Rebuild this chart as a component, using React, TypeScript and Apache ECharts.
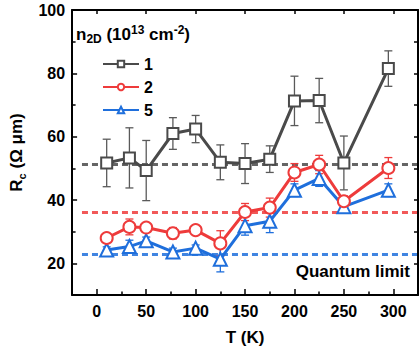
import React, { useEffect, useRef } from "react";
import * as echarts from "echarts";

const temps = [10, 33, 50, 77, 100, 125, 150, 175, 200, 225, 250, 295];
const series1 = [51.7, 53.3, 49.3, 61.0, 62.4, 51.9, 51.5, 52.9, 71.3, 71.4, 51.7, 81.5];
const err1 = [7.5, 9.5, 9.5, 5.0, 4.3, 5.5, 6.3, 4.2, 7.8, 7.0, 8.5, 5.6];
const series2 = [28.0, 31.5, 31.3, 29.5, 30.5, 26.3, 36.2, 37.6, 48.7, 51.2, 39.6, 50.1];
const err2 = [1.0, 2.5, 1.2, 1.8, 1.0, 4.0, 2.7, 3.0, 2.8, 2.9, 1.7, 3.3];
const series5 = [24.2, 25.3, 27.1, 23.6, 24.8, 21.3, 31.9, 33.3, 43.1, 46.8, 37.9, 43.1];
const err5 = [1.0, 2.0, 1.2, 1.2, 1.0, 4.0, 3.0, 3.6, 2.0, 2.5, 1.5, 2.0];
const seriesNames = ["1", "2", "5"];
const quantumLimits = [51.3, 36.2, 22.9];
const limitRange = [-15, 325];
const xMajorTicks = [0, 50, 100, 150, 200, 250, 300];
const xMinorTicks = [25, 75, 125, 175, 225, 275];
const yMajorTicks = [20, 40, 60, 80, 100];
const yMinorTicks = [30, 50, 70, 90];

const FONT = "Liberation Sans, Arial, Helvetica, sans-serif";
const COLORS = ["#4a4a4a", "#ee3b3b", "#1f6fdc"];
const ERR_COLORS = ["#5a5a5a", "#ee3b3b", "#1f6fdc"];
const SYMBOLS = ["emptyRect", "emptyCircle", "emptyTriangle"];
const SIZES = [11, 12, 13];

export default function App() {
  const ref = useRef<HTMLDivElement>(null);
  useEffect(() => {
    if (!ref.current) return;
    const chart = echarts.init(ref.current, undefined, { renderer: "svg" });
    const values = [series1, series2, series5];
    const errs = [err1, err2, err5];

    const axisCommon = (extra: any) => ({
      type: "value",
      splitLine: { show: false },
      ...extra,
    });

    const xAxes = [
      axisCommon({
        min: -25,
        max: 325,
        position: "bottom",
        axisLine: { show: true, onZero: false, lineStyle: { color: "#000", width: 2 } },
        axisTick: { show: true, inside: true, length: 6, customValues: xMajorTicks, lineStyle: { color: "#000", width: 1.5 } },
        axisLabel: { show: true, customValues: xMajorTicks, margin: 8, color: "#000", fontSize: 16, fontWeight: "bold", fontFamily: FONT },
        name: "T (K)",
        nameLocation: "middle",
        nameGap: 34,
        nameTextStyle: { color: "#000", fontSize: 17, fontWeight: "bold", fontFamily: FONT },
      }),
      axisCommon({
        min: -25,
        max: 325,
        position: "bottom",
        axisLine: { show: false, onZero: false },
        axisTick: { show: true, inside: true, length: 3.5, customValues: xMinorTicks, lineStyle: { color: "#000", width: 1.5 } },
        axisLabel: { show: false },
      }),
      axisCommon({
        min: -25,
        max: 325,
        position: "top",
        axisLine: { show: true, onZero: false, lineStyle: { color: "#000", width: 2 } },
        axisTick: { show: true, inside: true, length: 4, customValues: xMajorTicks, lineStyle: { color: "#000", width: 1.5 } },
        axisLabel: { show: false },
      }),
    ];

    const yAxes = [
      axisCommon({
        min: 10,
        max: 100,
        position: "left",
        axisLine: { show: true, onZero: false, lineStyle: { color: "#000", width: 2 } },
        axisTick: { show: true, inside: true, length: 5, customValues: yMajorTicks, lineStyle: { color: "#000", width: 1.5 } },
        axisLabel: { show: true, customValues: yMajorTicks, margin: 7, color: "#000", fontSize: 16, fontWeight: "bold", fontFamily: FONT },
        name: "{b|R}{s|c}{b| (Ω μm)}",
        nameLocation: "middle",
        nameGap: 40,
        nameTextStyle: {
          color: "#000",
          rich: {
            b: { fontSize: 17, fontWeight: "bold", fontFamily: FONT, color: "#000", lineHeight: 22 },
            s: { fontSize: 11, fontWeight: "bold", fontFamily: FONT, color: "#000", verticalAlign: "bottom" },
          },
        },
      }),
      axisCommon({
        min: 10,
        max: 100,
        position: "left",
        axisLine: { show: false, onZero: false },
        axisTick: { show: true, inside: true, length: 3.5, customValues: yMinorTicks, lineStyle: { color: "#000", width: 1.5 } },
        axisLabel: { show: false },
      }),
      axisCommon({
        min: 10,
        max: 100,
        position: "right",
        axisLine: { show: true, onZero: false, lineStyle: { color: "#000", width: 2 } },
        axisTick: { show: true, inside: true, length: 4, customValues: [...yMajorTicks, ...yMinorTicks], lineStyle: { color: "#000", width: 1.5 } },
        axisLabel: { show: false },
      }),
    ];

    const errorSeries = values.map((vals, i) => ({
      type: "custom",
      name: "err" + i,
      xAxisIndex: 0,
      yAxisIndex: 0,
      z: 1,
      silent: true,
      encode: { x: 0, y: [1, 2] },
      data: temps.map((t, k) => [t, vals[k] - errs[i][k], vals[k] + errs[i][k]]),
      renderItem: (params: any, api: any) => {
        const x = api.value(0);
        const lo = api.coord([x, api.value(1)]);
        const hi = api.coord([x, api.value(2)]);
        const hw = 4;
        const style = { stroke: ERR_COLORS[i], lineWidth: 1.3, fill: null };
        return {
          type: "group",
          children: [
            { type: "line", shape: { x1: lo[0], y1: lo[1], x2: hi[0], y2: hi[1] }, style },
            { type: "line", shape: { x1: lo[0] - hw, y1: lo[1], x2: lo[0] + hw, y2: lo[1] }, style },
            { type: "line", shape: { x1: hi[0] - hw, y1: hi[1], x2: hi[0] + hw, y2: hi[1] }, style },
          ],
        };
      },
    }));

    const lineSeries = values.map((vals, i) => ({
      type: "line",
      name: seriesNames[i],
      xAxisIndex: 0,
      yAxisIndex: 0,
      z: 3 + (2 - i),
      data: temps.map((t, k) => [t, vals[k]]),
      symbol: SYMBOLS[i],
      symbolSize: SIZES[i],
      showAllSymbol: true,
      itemStyle: { color: COLORS[i], borderWidth: 2 },
      lineStyle: { color: COLORS[i], width: 3 },
      markLine: {
        silent: true,
        symbol: "none",
        label: { show: false },
        z: 0,
        lineStyle: { color: COLORS[i], width: 3, type: [6, 4], opacity: 0.85 },
        data: [[{ coord: [limitRange[0], quantumLimits[i]] }, { coord: [limitRange[1], quantumLimits[i]] }]],
      },
    }));

    chart.setOption({
      animation: false,
      backgroundColor: "#fff",
      grid: { left: 67, right: 2, top: 10, bottom: 63, containLabel: false },
      xAxis: xAxes,
      yAxis: yAxes,
      legend: {
        data: seriesNames,
        orient: "vertical",
        left: 97,
        top: 51,
        padding: 5,
        itemWidth: 36,
        itemHeight: 8,
        itemGap: 7,
        textStyle: { color: "#000", fontSize: 16, fontWeight: "bold", fontFamily: FONT },
      },
      graphic: [
        {
          type: "text",
          left: 76,
          top: 24,
          style: {
            text: "{b|n}{s|2D}{b| (10}{p|13}{b| cm}{p|-2}{b|)}",
            fill: "#000",
            rich: {
              b: { fontSize: 17, fontWeight: "bold", fontFamily: FONT, fill: "#000", lineHeight: 21, verticalAlign: "middle" },
              s: { fontSize: 12, fontWeight: "bold", fontFamily: FONT, fill: "#000", verticalAlign: "bottom" },
              p: { fontSize: 12, fontWeight: "bold", fontFamily: FONT, fill: "#000", verticalAlign: "top" },
            },
          },
        },
        {
          type: "text",
          right: 10,
          top: 263,
          style: { text: "Quantum limit", fill: "#000", fontSize: 17, fontWeight: "bold", fontFamily: FONT },
        },
      ],
      series: [...errorSeries, ...lineSeries],
    });
    return () => chart.dispose();
  }, []);
  return (
    <div
      ref={ref}
      style={{ position: "fixed", left: 0, top: 0, width: 420, height: 358, background: "#fff" }}
    />
  );
}
